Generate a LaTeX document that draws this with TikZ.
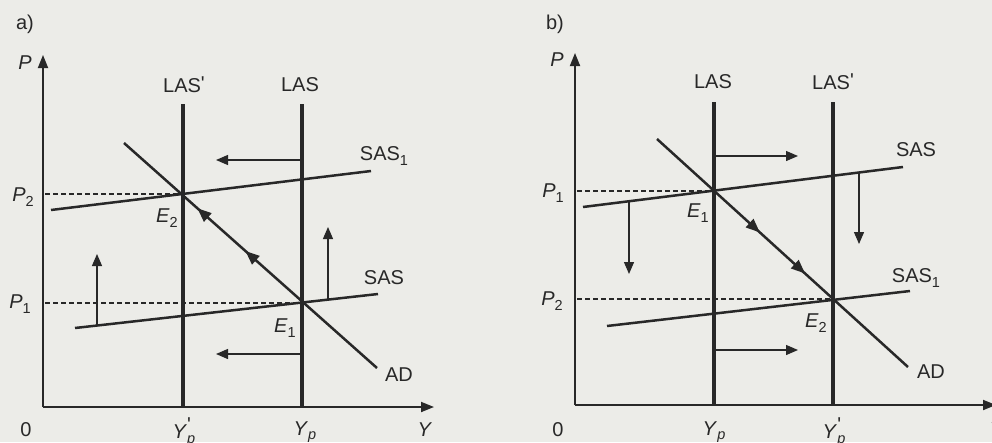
\documentclass[tikz,border=0pt]{standalone}
\usepackage{fontspec}
\setmainfont{Liberation Sans}
\usetikzlibrary{arrows.meta,decorations.markings}
\definecolor{paper}{RGB}{236,236,232}
\definecolor{ink}{RGB}{40,40,40}
\newcommand\lsub[1]{\raisebox{-0.45ex}{\fontsize{14.5}{14.5}\selectfont #1}}
\newcommand\pr{\raisebox{0.15ex}{\textquotesingle}}
\begin{document}
\begin{tikzpicture}[x=1pt,y=-1pt,
  axis/.style={ink, line width=1.8pt, -{Triangle[length=13pt,width=10pt]}},
  lasline/.style={ink, line width=3.2pt},
  curve/.style={ink, line width=2.5pt},
  shiftarr/.style={ink, line width=1.3pt, -{Triangle[length=12pt,width=10pt]}},
  guide/.style={ink, line width=1.2pt, dash pattern=on 5pt off 3pt},
  lbl/.style={text=ink, font=\fontsize{20}{20}\selectfont, inner sep=0pt},
  fwdmarks/.style 2 args={postaction={decorate}, decoration={markings,
      mark=at position #1 with {\arrow{Triangle[length=14pt,width=11pt]}},
      mark=at position #2 with {\arrow{Triangle[length=14pt,width=11pt]}}}},
  backmarks/.style 2 args={postaction={decorate}, decoration={markings,
      mark=at position #1 with {\arrowreversed{Triangle[length=14pt,width=11pt]}},
      mark=at position #2 with {\arrowreversed{Triangle[length=14pt,width=11pt]}}}}
]
\fill[paper] (0,0) rectangle (992,442);
\useasboundingbox (0,0) rectangle (992,442);

% ================= panel a =================
\coordinate (aO) at (43,407);
\coordinate (aPtop) at (43,55);
\coordinate (aYend) at (434,407);
\draw[axis] (aO) -- (aPtop);
\draw[axis] (aO) -- (aYend);

\coordinate (aL1t) at (183,104); \coordinate (aL1b) at (183,407);
\coordinate (aL2t) at (302,104); \coordinate (aL2b) at (302,407);
\draw[lasline] (aL1t) -- (aL1b);
\draw[lasline] (aL2t) -- (aL2b);

\coordinate (aS1a) at (51,210); \coordinate (aS1b) at (371,171);
\coordinate (aSa) at (75,328); \coordinate (aSb) at (378,294);
\draw[curve] (aS1a) -- (aS1b);
\draw[curve] (aSa) -- (aSb);

\coordinate (aADa) at (124,143); \coordinate (aADb) at (377,368);
\draw[curve, backmarks={0.29}{0.48}] (aADa) -- (aADb);

\coordinate (aE2) at (182,194); \coordinate (aE1) at (302,303);
\coordinate (aP2) at (45,194); \coordinate (aP1) at (45,303);
\draw[guide] (aP2) -- (aE2);
\draw[guide] (aP1) -- (aE1);

% shift arrows
\coordinate (aH1s) at (302,160); \coordinate (aH1e) at (216,160);
\coordinate (aH2s) at (302,354); \coordinate (aH2e) at (216,354);
\draw[shiftarr] (aH1s) -- (aH1e);
\draw[shiftarr] (aH2s) -- (aH2e);
\coordinate (aV1s) at (97,325.5); \coordinate (aV1e) at (97,254);
\coordinate (aV2s) at (328,299.6); \coordinate (aV2e) at (328,227);
\draw[shiftarr] (aV1s) -- (aV1e);
\draw[shiftarr] (aV2s) -- (aV2e);

% labels
\node[lbl] (la) at (25,24) {a)};
\node[lbl] (laP) at (25,63) {\textit{P}};
\node[lbl] (laLASp) at (184,85) {LAS\pr};
\node[lbl] (laLAS) at (300,85) {LAS};
\node[lbl] (laSAS1) at (384,156) {SAS\lsub{1}};
\node[lbl] (laSAS) at (384,278) {SAS};
\node[lbl] (laAD) at (399,375) {AD};
\node[lbl] (laP2) at (23,197) {\textit{P}\lsub{2}};
\node[lbl] (laP1) at (20,304) {\textit{P}\lsub{1}};
\node[lbl] (laE2) at (167,218) {\textit{E}\lsub{2}};
\node[lbl] (laE1) at (285,328) {\textit{E}\lsub{1}};
\node[lbl] (la0) at (26,430) {0};
\node[lbl] (laYpp) at (184,432) {\textit{Y}\rlap{\raisebox{0.55ex}{\pr}}\lsub{\textit{p}}};
\node[lbl] (laYp) at (305,432) {\textit{Y}\lsub{\textit{p}}};
\node[lbl] (laY) at (425,430) {\textit{Y}};

% ================= panel b =================
\coordinate (bO) at (575,405);
\coordinate (bPtop) at (575,53);
\coordinate (bYend) at (996,405);
\draw[axis] (bO) -- (bPtop);
\draw[axis] (bO) -- (bYend);

\coordinate (bL1t) at (714,102); \coordinate (bL1b) at (714,405);
\coordinate (bL2t) at (833,102); \coordinate (bL2b) at (833,405);
\draw[lasline] (bL1t) -- (bL1b);
\draw[lasline] (bL2t) -- (bL2b);

\coordinate (bSa) at (583,207); \coordinate (bSb) at (903,167);
\coordinate (bS1a) at (607,326); \coordinate (bS1b) at (910,291);
\draw[curve] (bSa) -- (bSb);
\draw[curve] (bS1a) -- (bS1b);

\coordinate (bADa) at (657,139); \coordinate (bADb) at (908,367);
\draw[curve, fwdmarks={0.41}{0.59}] (bADa) -- (bADb);

\coordinate (bE1) at (714,191); \coordinate (bE2) at (833,299);
\coordinate (bP1) at (577,191); \coordinate (bP2) at (577,299);
\draw[guide] (bP1) -- (bE1);
\draw[guide] (bP2) -- (bE2);

\coordinate (bH1s) at (714,156); \coordinate (bH1e) at (798,156);
\coordinate (bH2s) at (714,350); \coordinate (bH2e) at (798,350);
\draw[shiftarr] (bH1s) -- (bH1e);
\draw[shiftarr] (bH2s) -- (bH2e);
\coordinate (bV1s) at (629,201.3); \coordinate (bV1e) at (629,274);
\coordinate (bV2s) at (859,172.5); \coordinate (bV2e) at (859,244);
\draw[shiftarr] (bV1s) -- (bV1e);
\draw[shiftarr] (bV2s) -- (bV2e);

\node[lbl] (lb) at (555,24) {b)};
\node[lbl] (lbP) at (557,60) {\textit{P}};
\node[lbl] (lbLAS) at (713,82) {LAS};
\node[lbl] (lbLASp) at (833,82) {LAS\pr};
\node[lbl] (lbSAS) at (916,150) {SAS};
\node[lbl] (lbSAS1) at (916,278) {SAS\lsub{1}};
\node[lbl] (lbAD) at (931,372) {AD};
\node[lbl] (lbP1) at (553,193) {\textit{P}\lsub{1}};
\node[lbl] (lbP2) at (552,301) {\textit{P}\lsub{2}};
\node[lbl] (lbE1) at (698,213) {\textit{E}\lsub{1}};
\node[lbl] (lbE2) at (816,323) {\textit{E}\lsub{2}};
\node[lbl] (lb0) at (558,430) {0};
\node[lbl] (lbYp) at (714,432) {\textit{Y}\lsub{\textit{p}}};
\node[lbl] (lbYpp) at (834,432) {\textit{Y}\rlap{\raisebox{0.55ex}{\pr}}\lsub{\textit{p}}};
\node[lbl] (lbY) at (997,430) {\textit{Y}};
\end{tikzpicture}
\end{document}
